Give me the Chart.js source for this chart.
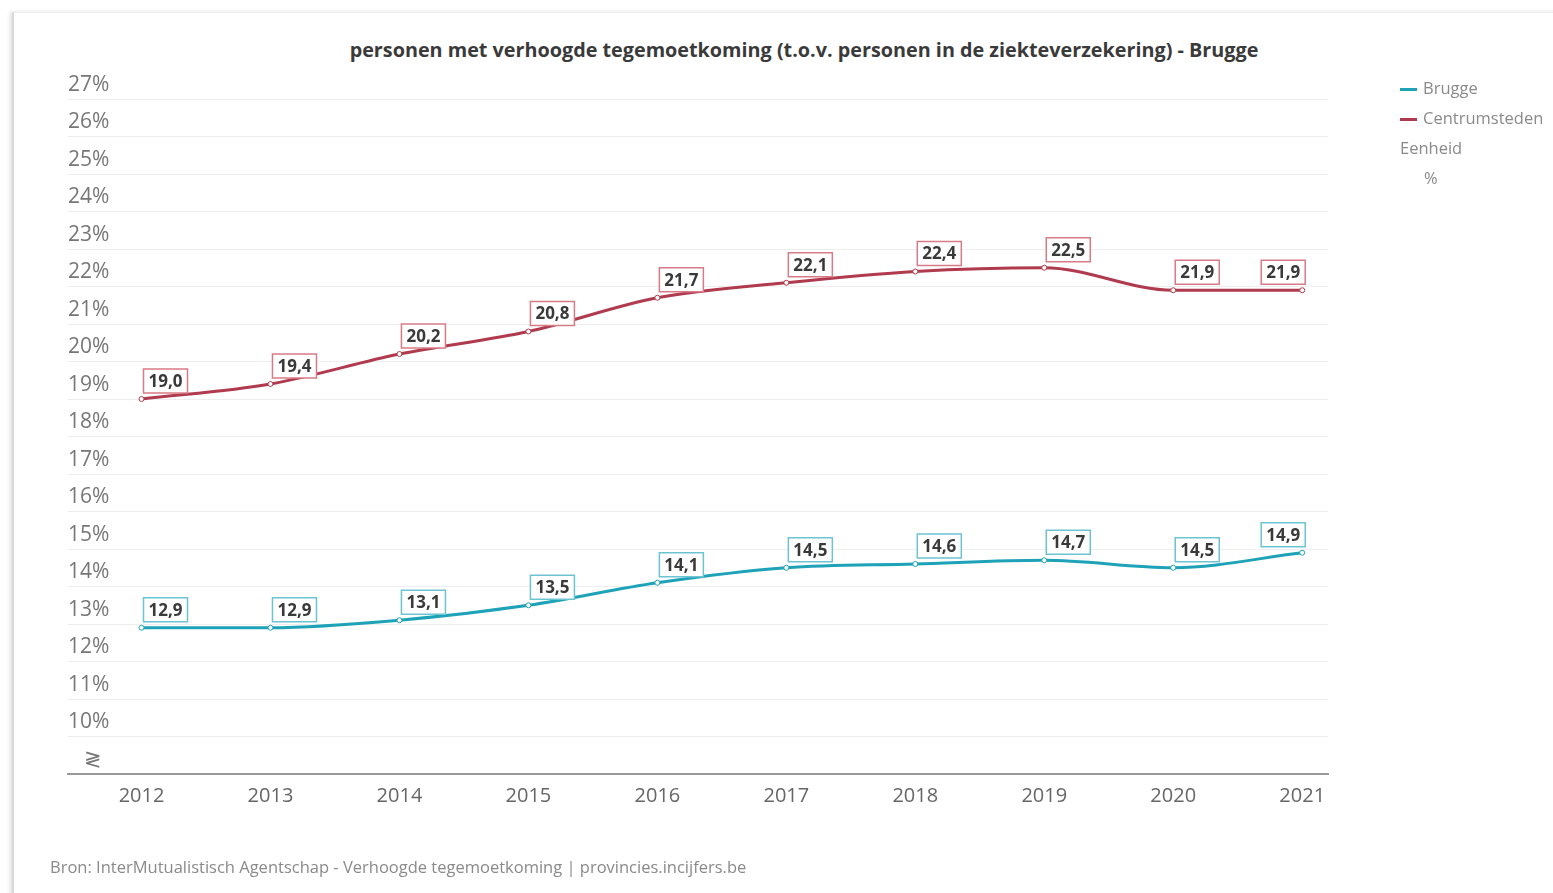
<!DOCTYPE html>
<html>
<head>
<meta charset="utf-8">
<script src="https://cdn.jsdelivr.net/npm/chart.js@4.4.1/dist/chart.umd.min.js"></script>
<style>
  html, body { margin: 0; padding: 0; background: #fff; font-family: "Open Sans", sans-serif; }
  #wrap { position: relative; width: 1553px; height: 893px; overflow: hidden; }
  #card { position: absolute; left: 12px; top: 12px; width: 1600px; height: 950px; background: #fff;
          border-left: 2px solid #d8d8d8; border-top: 1px solid #eee; box-shadow: -2px 0 4px rgba(0,0,0,0.12); }
  #chartBox { position: absolute; left: 0; top: 0; width: 1553px; height: 893px; }
  #title { position: absolute; left: 0; width: 1608px; top: 36px; text-align: center;
           font-weight: bold; font-size: 19.8px; color: #3a3a3a; }
  .leg { position: absolute; font-size: 16.5px; color: #8a8a8a; }
  .leg i { display: inline-block; width: 17px; height: 3px; vertical-align: middle; margin-right: 6px; }
  #source { position: absolute; left: 50px; top: 855px; font-size: 16.5px; color: #8a8a8a; }
</style>
</head>
<body>
<div id="wrap">
  <div id="card"></div>
  <div id="title">personen met verhoogde tegemoetkoming (t.o.v. personen in de ziekteverzekering) - Brugge</div>
  <div id="chartBox"><canvas id="trendChart"></canvas></div>
  <div class="leg" style="left:1400px; top:76px;"><i style="background:#1ea2b8"></i>Brugge</div>
  <div class="leg" style="left:1400px; top:106px;"><i style="background:#b03a4e"></i>Centrumsteden</div>
  <div class="leg" style="left:1400px; top:136px;">Eenheid</div>
  <div class="leg" style="left:1424px; top:166px;">%</div>
  <div id="source">Bron: InterMutualistisch Agentschap - Verhoogde tegemoetkoming | provincies.incijfers.be</div>
</div>
<script>
var years = [2012, 2013, 2014, 2015, 2016, 2017, 2018, 2019, 2020, 2021];
var brugge = [12.9, 12.9, 13.1, 13.5, 14.1, 14.5, 14.6, 14.7, 14.5, 14.9];
var centrumsteden = [19.0, 19.4, 20.2, 20.8, 21.7, 22.1, 22.4, 22.5, 21.9, 21.9];

function toPoints(values) {
    return values.map(function (v, i) { return { x: years[i], y: v }; });
}

// boxed value labels above each point
var valueLabels = {
    id: 'valueLabels',
    afterDatasetsDraw: function (chart) {
        var ctx = chart.ctx;
        ctx.save();
        ctx.font = 'bold 17px "Open Sans", sans-serif';
        ctx.textAlign = 'center';
        ctx.textBaseline = 'middle';
        chart.data.datasets.forEach(function (ds, di) {
            var meta = chart.getDatasetMeta(di);
            meta.data.forEach(function (pt, i) {
                var txt = ds.data[i].y.toFixed(1).replace('.', ',');
                var w = ctx.measureText(txt).width + 10;
                var h = 24;
                var cx = i === meta.data.length - 1 ? pt.x - 19 : pt.x + 24;
                var cy = pt.y - 18;
                ctx.fillStyle = '#fff';
                ctx.fillRect(cx - w / 2, cy - h / 2, w, h);
                ctx.strokeStyle = ds.labelBorder;
                ctx.lineWidth = 1.5;
                ctx.strokeRect(cx - w / 2, cy - h / 2, w, h);
                ctx.fillStyle = '#3a3a3a';
                ctx.fillText(txt, cx, cy + 1);
            });
        });
        ctx.restore();
    }
};

document.addEventListener('DOMContentLoaded', function () {
    var ctx = document.getElementById('trendChart').getContext('2d');
    new Chart(ctx, {
        type: 'line',
        data: {
            datasets: [{
                label: 'Brugge',
                data: toPoints(brugge),
                borderColor: '#1ea2b8',
                labelBorder: '#6cc3d2',
                borderWidth: 3,
                pointRadius: 2.5,
                pointBackgroundColor: '#fff',
                pointBorderColor: '#1ea2b8',
                pointBorderWidth: 1,
                cubicInterpolationMode: 'monotone'
            }, {
                label: 'Centrumsteden',
                data: toPoints(centrumsteden),
                borderColor: '#b03a4e',
                labelBorder: '#d77b87',
                borderWidth: 3,
                pointRadius: 2.5,
                pointBackgroundColor: '#fff',
                pointBorderColor: '#b03a4e',
                pointBorderWidth: 1,
                cubicInterpolationMode: 'monotone'
            }]
        },
        options: {
            responsive: true,
            maintainAspectRatio: false,
            animation: false,
            layout: { padding: { left: 68, right: 225, top: 99, bottom: 75 } },
            plugins: {
                legend: { display: false },
                title: { display: false },
                tooltip: { enabled: false }
            },
            scales: {
                x: {
                    type: 'linear',
                    min: 2011.43,
                    max: 2021.2,
                    grid: { display: false, drawTicks: false },
                    border: { display: true, color: '#999', width: 2 },
                    ticks: {
                        stepSize: 1,
                        includeBounds: false,
                        padding: 10,
                        color: '#666',
                        font: { family: '"Open Sans", sans-serif', size: 20 },
                        callback: function (v) { return String(v); }
                    }
                },
                y: {
                    min: 9,
                    max: 27,
                    grid: { color: '#eeeeee', drawTicks: false },
                    border: { display: false },
                    ticks: {
                        stepSize: 1,
                        mirror: true,
                        padding: 0,
                        labelOffset: -14,
                        color: '#777',
                        font: { family: '"Open Sans", sans-serif', size: 21 },
                        callback: function (v) { return v === 9 ? '   \u2277' : v + '%'; }
                    }
                }
            }
        },
        plugins: [valueLabels]
    });
});
</script>
</body>
</html>
